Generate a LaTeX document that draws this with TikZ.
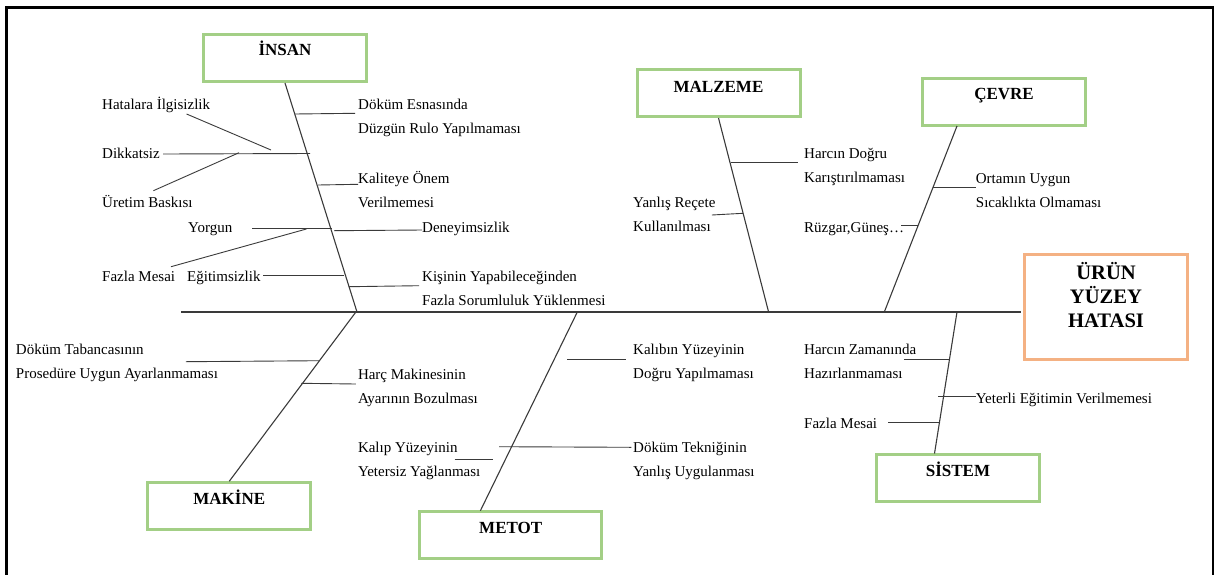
\documentclass[tikz,border=0pt]{standalone}
\usepackage{fontspec}
\setmainfont{Liberation Serif}
\definecolor{boxgreen}{HTML}{A3CF86}
\definecolor{boxorange}{HTML}{F4B183}
\definecolor{bone}{HTML}{3A3A3A}
\tikzset{
  gbox/.style={draw=boxgreen, line width=3pt, minimum width=163pt, minimum height=47pt, inner sep=0pt},
  obox/.style={draw=boxorange, line width=3.5pt, minimum width=163pt, minimum height=105pt, inner sep=0pt},
  title/.style={font=\fontsize{17}{20}\selectfont\bfseries, anchor=base, inner sep=0pt},
  lbl/.style={font=\fontsize{15}{18}\selectfont, anchor=base west, inner sep=0pt},
  bonel/.style={draw=bone, line width=1.1pt},
  subl/.style={draw=bone, line width=0.9pt},
}
\begin{document}
\begin{tikzpicture}[x=1pt, y=-1pt]
\useasboundingbox (0,0) rectangle (1215,574);
% frame
\draw[line width=2.5pt, black] (6.5,576) -- (6.5,7.5) -- (1213,7.5) -- (1213,576);

% boxes
\node[gbox] (insan) at (285,58) {};
\node[title] (insanT) at (285,55) {İNSAN};
\node[gbox] (malzeme) at (718.5,93) {};
\node[title] (malzemeT) at (718.5,92) {MALZEME};
\node[gbox] (cevre) at (1004,101.7) {};
\node[title] (cevreT) at (1004,99) {ÇEVRE};
\node[obox] (urun) at (1106,307) {};
\node[font=\fontsize{20.6}{24}\selectfont\bfseries, anchor=base, inner sep=0pt, align=center] (urunT) at (1106,327) {ÜRÜN\\YÜZEY\\HATASI};
\node[gbox] (sistem) at (958,478.3) {};
\node[title] (sistemT) at (958,476) {SİSTEM};
\node[gbox] (makine) at (229.3,506.2) {};
\node[title] (makineT) at (229.3,504) {MAKİNE};
\node[gbox, minimum width=182pt] (metot) at (510.7,535.3) {};
\node[title] (metotT) at (510.7,533.5) {METOT};

% spine coordinates
\coordinate (sI) at (357,312);
\coordinate (sMz) at (768.6,312);
\coordinate (sC) at (884.3,312);
\coordinate (sS) at (957,312);
\coordinate (sMk) at (355.9,312);
\coordinate (sMt) at (577.3,312);
\coordinate (head) at (181,312);
\coordinate (tail) at (1021,312);

\draw[bonel] (head) -- (tail);
\draw[bonel] (insan.south) -- (sI);
\draw[bonel] (malzeme.south) -- (sMz);
\draw[bonel] (957,126) -- (sC);
\draw[bonel] (sS) -- (934.5,453.5);
\draw[bonel] (sMk) -- (makine.north);
\draw[bonel] (sMt) -- (480.4,510.7);

% labels INSAN
\node[lbl] (l1) at (102,109) {Hatalara İlgisizlik};
\node[lbl] (l2) at (102,158) {Dikkatsiz};
\node[lbl] (l3) at (102,207) {Üretim Baskısı};
\node[lbl] (l4a) at (358,109) {Döküm Esnasında};
\node[lbl] (l4b) at (358,133.5) {Düzgün Rulo Yapılmaması};
\node[lbl] (l5a) at (358,183) {Kaliteye Önem};
\node[lbl] (l5b) at (358,207.5) {Verilmemesi};
\node[lbl] (l6) at (188,232) {Yorgun};
\node[lbl] (l7) at (422,232) {Deneyimsizlik};
\node[lbl] (l8) at (102,281) {Fazla Mesai};
\node[lbl] (l9) at (187,281) {Eğitimsizlik};
\node[lbl] (l10a) at (422,281) {Kişinin Yapabileceğinden};
\node[lbl] (l10b) at (422,305.5) {Fazla Sorumluluk Yüklenmesi};

\draw[subl] (186.6,114) -- (271,150);
\draw[subl] (163,154) -- (310,153.5);
\draw[subl] (153.4,190.7) -- (239,152.7);
\draw[subl] (294.6,114) -- (355,113.3);
\draw[subl] (318,185) -- (358,184.3);
\draw[subl] (252,228.3) -- (332,228.3);
\draw[subl] (171,266.7) -- (306.4,229);
\draw[subl] (334,230.7) -- (422,230);
\draw[subl] (263,275) -- (344,275);
\draw[subl] (348.7,286.7) -- (419,285.7);

% MALZEME
\node[lbl] (l11a) at (804,158) {Harcın Doğru};
\node[lbl] (l11b) at (804,182.5) {Karıştırılmaması};
\node[lbl] (l12a) at (633,207) {Yanlış Reçete};
\node[lbl] (l12b) at (633,231.5) {Kullanılması};
\draw[subl] (730.6,162.7) -- (798,162.7);
\draw[subl] (711.8,215) -- (743,213.3);

% CEVRE
\node[lbl] (l13a) at (975.7,183) {Ortamın Uygun};
\node[lbl] (l13b) at (975.7,207.5) {Sıcaklıkta Olmaması};
\node[lbl] (l14) at (804,232) {Rüzgar,Güneş…};
\draw[subl] (933.4,187.3) -- (975.7,187.3);
\draw[subl] (901,225) -- (917.7,225);

% MAKINE
\node[lbl] (l15a) at (15.8,354) {Döküm Tabancasının};
\node[lbl] (l15b) at (15.8,378.5) {Prosedüre Uygun Ayarlanmaması};
\node[lbl] (l16a) at (357.8,379) {Harç Makinesinin};
\node[lbl] (l16b) at (357.8,403.5) {Ayarının Bozulması};
\draw[subl] (185.8,361.7) -- (319.5,360.7);
\draw[subl] (301.3,383.3) -- (355.9,384);

% METOT
\node[lbl] (l17a) at (633,354) {Kalıbın Yüzeyinin};
\node[lbl] (l17b) at (633,378.5) {Doğru Yapılmaması};
\node[lbl] (l18a) at (357.8,452) {Kalıp Yüzeyinin};
\node[lbl] (l18b) at (357.8,476.5) {Yetersiz Yağlanması};
\node[lbl] (l19a) at (633,452) {Döküm Tekniğinin};
\node[lbl] (l19b) at (633,476.5) {Yanlış Uygulanması};
\draw[subl] (567.4,359.3) -- (625.5,359.3);
\draw[subl] (499,446.7) -- (631.4,447.3);
\draw[subl] (454.7,459) -- (493.4,459);

% SISTEM
\node[lbl] (l20a) at (804,354) {Harcın Zamanında};
\node[lbl] (l20b) at (804,378.5) {Hazırlanmaması};
\node[lbl] (l21) at (975.7,403) {Yeterli Eğitimin Verilmemesi};
\node[lbl] (l22) at (804,428) {Fazla Mesai};
\draw[subl] (904,359.3) -- (949,359.3);
\draw[subl] (938,396) -- (975.7,396);
\draw[subl] (888.3,422.7) -- (939.3,422.7);
\end{tikzpicture}
\end{document}
